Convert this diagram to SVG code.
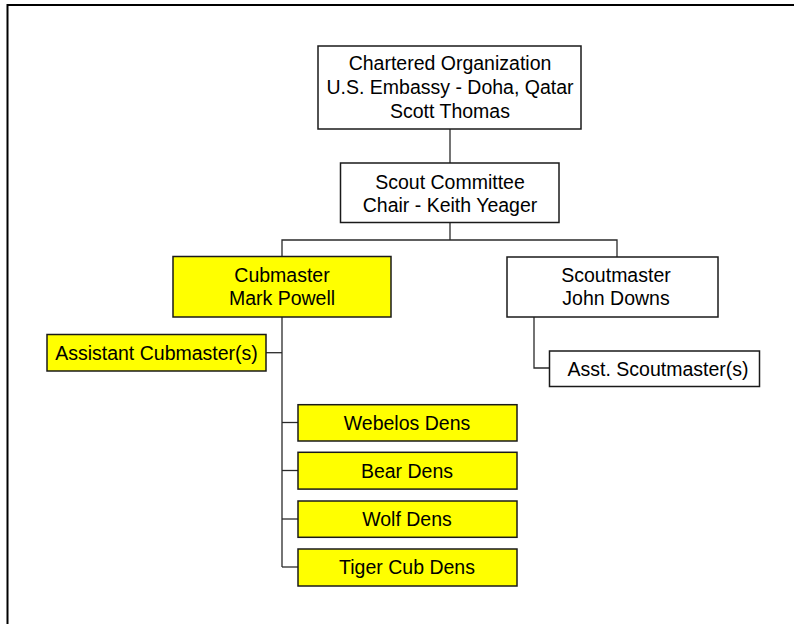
<svg xmlns="http://www.w3.org/2000/svg" width="794" height="624" viewBox="0 0 794 624">
<style>
.box{fill:#ffffff;stroke:#1a1a1a;stroke-width:1.5}
.yel{fill:#ffff00;stroke:#1a1a1a;stroke-width:1.5}
.t{font-family:"Liberation Sans",Arial,sans-serif;font-size:19.5px;fill:#000;text-anchor:middle}
.c{fill:none;stroke:#2a2a2a;stroke-width:1.3}
</style>
<rect x="0" y="0" width="794" height="624" fill="#ffffff"/>
<path d="M7.5 630 V5 H800" fill="none" stroke="#000" stroke-width="2"/>
<g id="connectors">
<path class="c" d="M450 129 V163"/>
<path class="c" d="M450 222.5 V240"/>
<path class="c" d="M282 256.5 V240 H617 V257"/>
<path class="c" d="M282 317 V567"/>
<path class="c" d="M266 352.7 H282"/>
<path class="c" d="M282 422.5 H298"/>
<path class="c" d="M282 470.5 H298"/>
<path class="c" d="M282 519 H298"/>
<path class="c" d="M282 567 H298"/>
<path class="c" d="M534 317 V368 H549.5"/>
</g>
<g id="chartered">
<rect class="box" x="318" y="46" width="263" height="83"/>
<text class="t" x="450" y="70">Chartered Organization</text>
<text class="t" x="450" y="94">U.S. Embassy - Doha, Qatar</text>
<text class="t" x="450" y="117.5">Scott Thomas</text>
</g>
<g id="committee">
<rect class="box" x="340.5" y="163" width="218.5" height="59.5"/>
<text class="t" x="450" y="188.5">Scout Committee</text>
<text class="t" x="450" y="212">Chair - Keith Yeager</text>
</g>
<g id="cubmaster">
<rect class="yel" x="173" y="256.5" width="218" height="60.5"/>
<text class="t" x="282" y="282">Cubmaster</text>
<text class="t" x="282" y="305.3">Mark Powell</text>
</g>
<g id="scoutmaster">
<rect class="box" x="507" y="257" width="211" height="60"/>
<text class="t" x="616" y="282">Scoutmaster</text>
<text class="t" x="616" y="305.3">John Downs</text>
</g>
<g id="asst-cubmaster">
<rect class="yel" x="47" y="334.5" width="219" height="36.5"/>
<text class="t" x="156.5" y="359.5">Assistant Cubmaster(s)</text>
</g>
<g id="asst-scoutmaster">
<rect class="box" x="549.5" y="351" width="210" height="35.5"/>
<text class="t" x="658" y="375.5">Asst. Scoutmaster(s)</text>
</g>
<g id="webelos">
<rect class="yel" x="298" y="404.7" width="219" height="36.3"/>
<text class="t" x="407" y="429.6">Webelos Dens</text>
</g>
<g id="bear">
<rect class="yel" x="298" y="452.3" width="219" height="36.8"/>
<text class="t" x="407" y="477.5">Bear Dens</text>
</g>
<g id="wolf">
<rect class="yel" x="298" y="501" width="219" height="36.3"/>
<text class="t" x="407" y="526">Wolf Dens</text>
</g>
<g id="tiger">
<rect class="yel" x="298" y="549" width="219" height="37"/>
<text class="t" x="407" y="574.3">Tiger Cub Dens</text>
</g>
</svg>
